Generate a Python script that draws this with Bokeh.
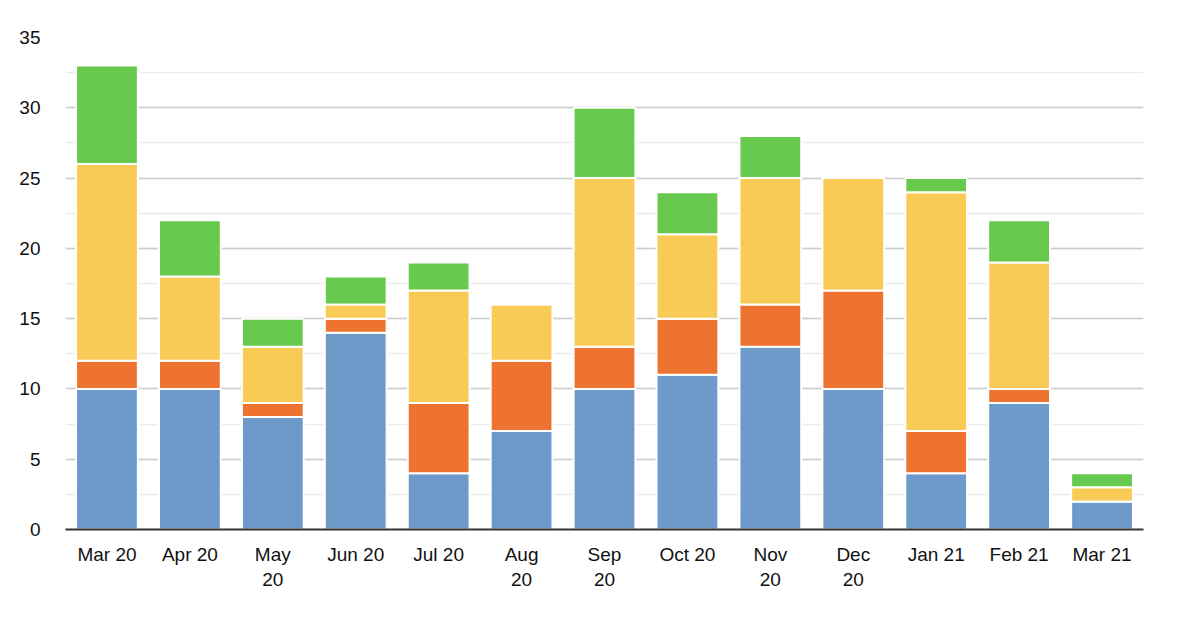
from bokeh.models import ColumnDataSource, FactorRange, Range1d, SingleIntervalTicker
from bokeh.plotting import figure
from bokeh.embed import file_html
from bokeh.resources import INLINE

months = ["Mar 20", "Apr 20", "May\n20", "Jun 20", "Jul 20", "Aug\n20", "Sep\n20",
          "Oct 20", "Nov\n20", "Dec\n20", "Jan 21", "Feb 21", "Mar 21"]
blue = [10, 10, 8, 14, 4, 7, 10, 11, 13, 10, 4, 9, 2]
orange = [2, 2, 1, 1, 5, 5, 3, 4, 3, 7, 3, 1, 0]
yellow = [14, 6, 4, 1, 8, 4, 12, 6, 9, 8, 17, 9, 1]
green = [7, 4, 2, 2, 2, 0, 5, 3, 3, 0, 1, 3, 1]

series = ["blue", "orange", "yellow", "green"]
colors = ["#6d9ac9", "#ee7330", "#f8cb57", "#67c94e"]

source = ColumnDataSource(data=dict(months=months, blue=blue, orange=orange,
                                    yellow=yellow, green=green))

p = figure(x_range=FactorRange(*months, range_padding=0), y_range=Range1d(0, 35),
           width=1170, height=610, toolbar_location=None, output_backend="svg",
           min_border_left=65, min_border_right=27, min_border_top=37, min_border_bottom=81)

p.vbar_stack(series, x="months", width=0.745, source=source, color=colors,
             line_color="white", line_width=2)

p.outline_line_color = None
p.background_fill_color = "white"

p.yaxis.ticker = SingleIntervalTicker(interval=5, num_minor_ticks=2)
p.yaxis.axis_line_color = None
p.yaxis.major_tick_line_color = None
p.yaxis.minor_tick_line_color = None
p.yaxis.major_label_standoff = 19
p.yaxis.major_label_text_font = "Liberation Sans"
p.yaxis.major_label_text_font_size = "19px"
p.yaxis.major_label_text_color = "#111111"

p.xaxis.axis_line_color = "#333333"
p.xaxis.axis_line_width = 2
p.xaxis.major_tick_line_color = None
p.xaxis.minor_tick_line_color = None
p.xaxis.major_label_standoff = 8
p.xaxis.major_label_text_font = "Liberation Sans"
p.xaxis.major_label_text_font_size = "19px"
p.xaxis.major_label_text_color = "#111111"

p.xgrid.grid_line_color = None
p.ygrid.grid_line_color = "#cccccc"
p.ygrid.grid_line_width = 1.5
p.ygrid.minor_grid_line_color = "#ebebeb"
p.ygrid.minor_grid_line_width = 1.5

open("out.html", "w").write(file_html(p, INLINE))
